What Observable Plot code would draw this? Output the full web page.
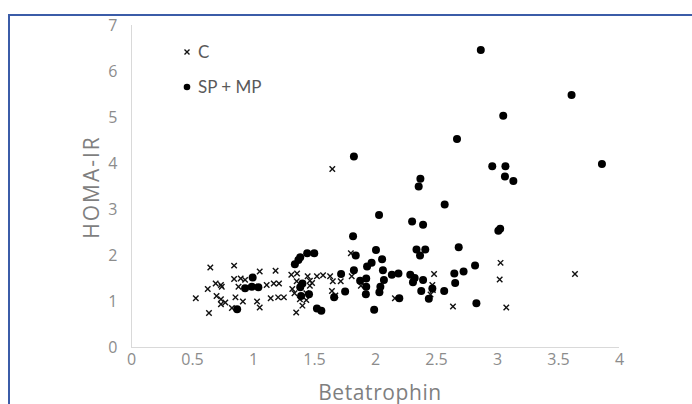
<!DOCTYPE html>
<html>
<head>
<meta charset="utf-8">
<script src="https://cdn.jsdelivr.net/npm/d3@7"></script>
<script src="https://cdn.jsdelivr.net/npm/@observablehq/plot@0.6"></script>
<style>
  html, body { margin: 0; padding: 0; background: #fff; }
  #wrap { position: relative; width: 692px; height: 404px; overflow: hidden; font-family: "Open Sans", Lato, sans-serif; }
  #frame { position: absolute; left: 8px; top: 14px; width: 700px; height: 400px; border-left: 2px solid #3b5ca8; border-top: 2px solid #3b5ca8; box-sizing: border-box; pointer-events: none; }
  #legend { position: absolute; left: 182px; top: 34px; color: #595959; font-size: 17px; line-height: 35px; font-family: Lato, sans-serif; }
  #legend .item { display: flex; align-items: center; }
  #legend svg { margin-right: 6px; }
  #chart svg { display: block; }
  #chart svg text { font-size: 16px !important; font-family: "Open Sans", sans-serif !important; }
  .title { position: absolute; color: #7f7f7f; font-size: 21px; line-height: 1; white-space: nowrap; }
  #xtitle { left: 380px; top: 392px; letter-spacing: 0.6px; transform: translate(-50%, -50%); }
  #ytitle { left: 91px; top: 187px; letter-spacing: 2px; transform: translate(-50%, -50%) rotate(-90deg); }
</style>
</head>
<body>
<div id="wrap">
  <div id="chart"></div>
  <div id="frame"></div>
  <div id="legend"></div>
  <div id="xtitle" class="title"></div>
  <div id="ytitle" class="title"></div>
</div>
<script>
// Series names
const seriesNames = ["C", "SP + MP"];

// Group C (crosses): Betatrophin, HOMA-IR
const cX = [1.646, 3.635, 3.025, 3.018, 3.072, 2.635, 2.480, 2.466, 2.451, 1.798, 1.805, 1.715, 1.650, 1.628, 1.570, 1.520, 1.444, 1.357, 1.310, 1.354, 1.462, 1.462, 1.318, 1.336, 1.433, 1.401, 1.350, 1.433, 1.643, 1.671, 1.880, 2.159, 1.249, 1.202, 1.141, 1.181, 1.051, 1.209, 1.166, 1.108, 1.029, 1.051, 1.005, 0.841, 0.841, 0.895, 0.877, 0.852, 0.913, 0.823, 0.646, 0.690, 0.733, 0.740, 0.625, 0.697, 0.733, 0.733, 0.769, 0.527, 0.635, 0.931, 1.380, 1.480, 2.470];
const cY = [3.88, 1.60, 1.84, 1.48, 0.87, 0.89, 1.60, 1.36, 1.15, 2.05, 1.55, 1.44, 1.44, 1.55, 1.57, 1.55, 1.55, 1.61, 1.58, 1.44, 1.45, 1.34, 1.27, 1.18, 1.18, 0.91, 0.76, 1.03, 1.23, 1.13, 1.34, 1.07, 1.09, 1.09, 1.07, 1.67, 1.65, 1.39, 1.39, 1.36, 1.00, 0.87, 1.32, 1.78, 1.49, 1.50, 1.32, 1.09, 1.00, 0.86, 1.74, 1.39, 1.36, 1.32, 1.27, 1.12, 1.05, 0.94, 0.98, 1.07, 0.75, 1.47, 1.05, 1.40, 1.25];

// Group SP + MP (filled circles): Betatrophin, HOMA-IR
const spX = [2.863, 3.607, 3.047, 2.668, 1.823, 3.856, 2.957, 3.065, 3.061, 3.130, 2.368, 2.354, 2.567, 2.029, 2.300, 2.390, 3.007, 3.022, 1.816, 2.682, 2.004, 2.336, 2.408, 2.365, 1.838, 2.054, 1.440, 1.498, 1.383, 1.368, 1.339, 1.931, 1.968, 1.823, 2.061, 2.816, 2.722, 2.646, 2.653, 1.718, 2.188, 2.134, 2.285, 2.321, 2.390, 2.307, 1.874, 1.924, 2.069, 1.924, 2.040, 2.032, 1.921, 2.375, 2.466, 2.563, 2.437, 2.195, 1.751, 1.661, 1.455, 1.390, 1.383, 1.401, 1.520, 1.556, 1.989, 2.827, 0.993, 0.931, 0.986, 1.040, 0.866];
const spY = [6.47, 5.49, 5.04, 4.53, 4.15, 3.99, 3.94, 3.94, 3.72, 3.62, 3.67, 3.50, 3.11, 2.88, 2.74, 2.67, 2.54, 2.58, 2.42, 2.18, 2.12, 2.13, 2.13, 2.00, 2.00, 1.92, 2.05, 2.05, 1.96, 1.90, 1.81, 1.76, 1.84, 1.68, 1.68, 1.78, 1.65, 1.61, 1.40, 1.60, 1.61, 1.58, 1.58, 1.51, 1.47, 1.42, 1.45, 1.50, 1.47, 1.32, 1.32, 1.20, 1.16, 1.23, 1.28, 1.23, 1.06, 1.07, 1.22, 1.09, 1.16, 1.12, 1.31, 1.39, 0.85, 0.80, 0.82, 0.96, 1.52, 1.29, 1.32, 1.31, 0.83];

// Axis ticks
const xTicks = [0, 0.5, 1, 1.5, 2, 2.5, 3, 3.5, 4];
const yTicks = [0, 1, 2, 3, 4, 5, 6, 7];
const xTitle = "Betatrophin";
const yTitle = "HOMA-IR";

const cData = cX.map((x, i) => ({x, y: cY[i]}));
const spData = spX.map((x, i) => ({x, y: spY[i]}));

const tickColor = "#8c8c8c";
const axisLine = "#d9d9d9";
const fmt = d => String(d);

const plot = Plot.plot({
  width: 692,
  height: 404,
  marginLeft: 131,
  marginRight: 73,
  marginTop: 25,
  marginBottom: 57,
  style: { fontFamily: "'Open Sans', Lato, sans-serif", fontSize: "16px", background: "transparent" },
  x: { domain: [0, 4], ticks: xTicks, tickFormat: fmt, label: null },
  y: { domain: [0, 7], ticks: yTicks, tickFormat: fmt, label: null },
  marks: [
    Plot.ruleY([0], { stroke: axisLine, strokeWidth: 1 }),
    Plot.ruleX([0], { stroke: axisLine, strokeWidth: 1 }),
    Plot.axisX({ ticks: xTicks, tickFormat: fmt, tickSize: 0, tickPadding: 6, fontSize: 16, color: tickColor, label: null }),
    Plot.axisY({ ticks: yTicks, tickFormat: fmt, tickSize: 0, tickPadding: 14, fontSize: 16, color: tickColor, label: null }),
    Plot.dot(cData, { x: "x", y: "y", symbol: "times", r: 2.6, stroke: "#111", strokeWidth: 1.4 }),
    Plot.dot(spData, { x: "x", y: "y", r: 4, fill: "#000", stroke: "none" })
  ]
});
document.getElementById("chart").appendChild(plot);

document.getElementById("xtitle").textContent = xTitle;
document.getElementById("ytitle").textContent = yTitle;

// Legend
const legend = document.getElementById("legend");
const symbols = [
  '<svg width="10" height="10" viewBox="-5 -5 10 10"><path d="M-2.5,-2.5L2.5,2.5M-2.5,2.5L2.5,-2.5" stroke="#111" stroke-width="1.4"/></svg>',
  '<svg width="10" height="10" viewBox="-5 -5 10 10"><circle r="3.3" fill="#000"/></svg>'
];
seriesNames.forEach((name, i) => {
  const d = document.createElement("div");
  d.className = "item";
  d.innerHTML = symbols[i] + "<span>" + name + "</span>";
  legend.appendChild(d);
});
</script>
</body>
</html>
